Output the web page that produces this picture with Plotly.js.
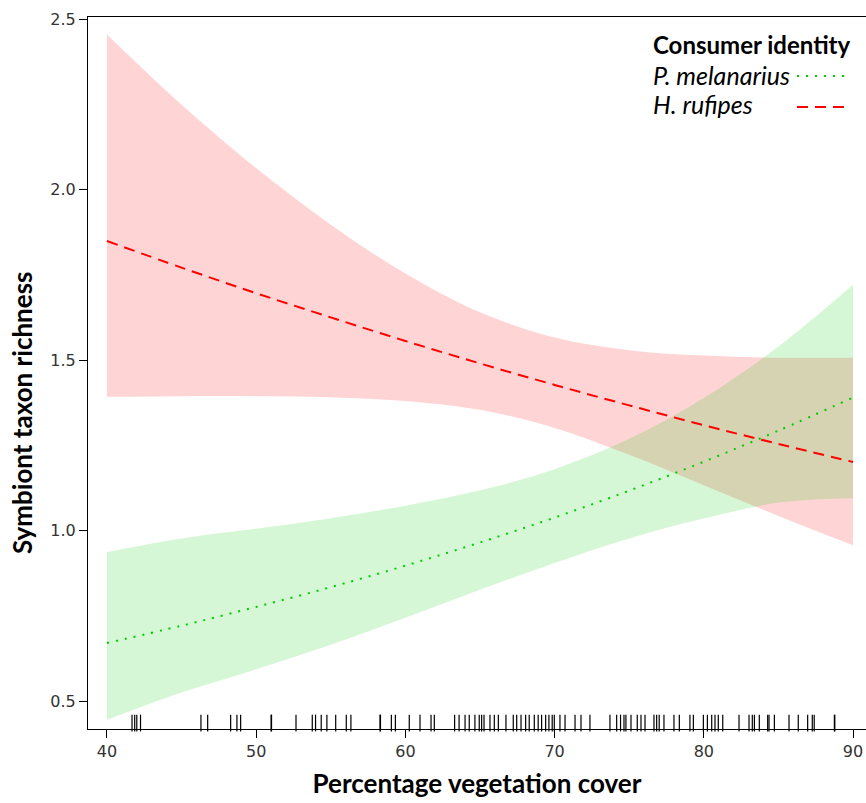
<!DOCTYPE html>
<html>
<head>
<meta charset="utf-8">
<script src="https://cdn.plot.ly/plotly-3.0.1.min.js"></script>
<style>html,body{margin:0;padding:0;background:#fff;}#chart{width:866px;height:803px;}</style>
</head>
<body>
<div id="chart"></div>
<script>
// Vegetation cover (x) at which the fitted curves were read
const cover = [40, 45, 50, 55, 60, 65, 70, 75, 80, 85, 90];

// H. rufipes: fitted richness and 95% band
const rufipesFit   = [1.849, 1.771, 1.696, 1.625, 1.556, 1.490, 1.427, 1.367, 1.309, 1.254, 1.201];
const rufipesLower = [1.392, 1.394, 1.394, 1.391, 1.380, 1.354, 1.301, 1.222, 1.133, 1.043, 0.957];
const rufipesUpper = [2.455, 2.249, 2.063, 1.897, 1.754, 1.640, 1.566, 1.529, 1.513, 1.507, 1.507];

// P. melanarius: fitted richness and 95% band
const melanariusFit   = [0.670, 0.721, 0.776, 0.834, 0.897, 0.965, 1.038, 1.117, 1.202, 1.293, 1.390];
const melanariusLower = [0.445, 0.525, 0.593, 0.665, 0.744, 0.826, 0.905, 0.977, 1.035, 1.082, 1.095];
const melanariusUpper = [0.937, 0.977, 1.005, 1.036, 1.073, 1.118, 1.180, 1.269, 1.389, 1.540, 1.721];

// Observed vegetation cover values (rug)
const rugCover = [41.68, 41.86, 42.0, 42.25, 46.3, 46.75, 48.29, 48.71, 48.96, 51.0, 51.03,
  52.67, 53.76, 53.98, 54.36, 54.74, 55.33, 56.04, 56.35, 58.30, 58.33, 59.06, 59.33, 60.26,
  60.98, 61.72, 61.94, 63.3, 63.6, 64.0, 64.28, 64.66, 64.95, 65.11, 65.27, 65.67, 65.96,
  66.23, 66.74, 67.23, 67.46, 67.75, 68.06, 68.3, 68.64, 68.9, 69.13, 69.4, 69.62, 69.84,
  69.98, 70.36, 70.7, 71.37, 71.77, 72.37, 73.71, 74.16, 74.42, 74.65, 74.78, 75.12, 75.54,
  75.79, 76.06, 76.66, 76.84, 77.01, 77.33, 78.0, 78.36, 79.07, 79.3, 79.97, 80.24, 80.53,
  80.75, 80.97, 81.27, 82.36, 83.03, 83.25, 83.39, 83.72, 84.28, 84.37, 84.73, 85.71,
  86.33, 86.96, 87.27, 87.4, 88.75, 88.78];
const rugLevel = 0.4355;

const seriesNames = ["P. melanarius", "H. rufipes"];
const xTitle = "Percentage vegetation cover";
const yTitle = "Symbiont taxon richness";
const legendTitle = "Consumer identity";

const redFill = "rgba(255,0,0,0.17)";
const greenFill = "rgba(0,205,0,0.16)";

const traces = [
  {x: cover, y: rufipesLower, mode: "lines", line: {width: 0, shape: "spline"}, hoverinfo: "skip", showlegend: false},
  {x: cover, y: rufipesUpper, mode: "lines", line: {width: 0, shape: "spline"}, fill: "tonexty", fillcolor: redFill, hoverinfo: "skip", showlegend: false},
  {x: cover, y: melanariusLower, mode: "lines", line: {width: 0, shape: "spline"}, hoverinfo: "skip", showlegend: false},
  {x: cover, y: melanariusUpper, mode: "lines", line: {width: 0, shape: "spline"}, fill: "tonexty", fillcolor: greenFill, hoverinfo: "skip", showlegend: false},
  {x: cover, y: melanariusFit, mode: "lines", name: seriesNames[0], line: {color: "#00cc00", width: 2, dash: "2px,7px", shape: "spline"}, showlegend: false},
  {x: cover, y: rufipesFit, mode: "lines", name: seriesNames[1], line: {color: "#ff0000", width: 2, dash: "11px,7px", shape: "spline"}, showlegend: false},
  {x: rugCover, y: rugCover.map(() => rugLevel), mode: "markers", cliponaxis: false,
   marker: {symbol: "line-ns-open", size: 12, color: "#000", line: {color: "#000", width: 1.2}}, hoverinfo: "skip", showlegend: false}
];

const layout = {
  width: 866, height: 803,
  margin: {l: 88, r: 0, t: 17, b: 74},
  paper_bgcolor: "#fff", plot_bgcolor: "#fff",
  showlegend: false,
  xaxis: {
    range: [38.73, 90.87], tickvals: [40, 50, 60, 70, 80, 90], ticks: "outside", ticklen: 8, tickwidth: 1, tickcolor: "#000",
    showline: true, linecolor: "#000", linewidth: 1, mirror: true, showgrid: false, zeroline: false,
    tickfont: {family: "DejaVu Sans", size: 16, color: "#333"},
    title: {text: xTitle, font: {family: "Lato", size: 26, color: "#000", weight: "bold"}, standoff: 14}
  },
  yaxis: {
    range: [0.418, 2.506], tickvals: [0.5, 1.0, 1.5, 2.0, 2.5], tickformat: ".1f", ticks: "outside", ticklen: 8, tickwidth: 1, tickcolor: "#000",
    showline: true, linecolor: "#000", linewidth: 1, showgrid: false, zeroline: false,
    tickfont: {family: "DejaVu Sans", size: 16, color: "#333"}
  },
  annotations: [
    {xref: "paper", yref: "paper", x: -0.085, y: 0.445, xanchor: "center", yanchor: "middle", textangle: -90, showarrow: false,
     text: "<b>" + yTitle + "</b>", font: {family: "Lato", size: 26, color: "#000"}},
    {xref: "paper", yref: "paper", x: 0.7237, y: 0.962, xanchor: "left", yanchor: "middle", showarrow: false,
     text: "<b>" + legendTitle + "</b>", font: {family: "Lato", size: 24, color: "#000"}},
    {xref: "paper", yref: "paper", x: 0.7237, y: 0.9185, xanchor: "left", yanchor: "middle", showarrow: false,
     text: "<i>" + seriesNames[0] + "</i>", font: {family: "Lato", size: 25, color: "#000"}},
    {xref: "paper", yref: "paper", x: 0.7237, y: 0.8778, xanchor: "left", yanchor: "middle", showarrow: false,
     text: "<i>" + seriesNames[1] + "</i>", font: {family: "Lato", size: 25, color: "#000"}}
  ],
  shapes: [
    {type: "line", xref: "paper", yref: "paper", x0: 0.9113, x1: 0.9794, y0: 0.9171, y1: 0.9171, line: {color: "#00cc00", width: 2, dash: "2px,7px"}},
    {type: "line", xref: "paper", yref: "paper", x0: 0.9113, x1: 0.9794, y0: 0.8736, y1: 0.8736, line: {color: "#ff0000", width: 2, dash: "11px,7px"}}
  ]
};

Plotly.newPlot("chart", traces, layout, {displayModeBar: false, staticPlot: true});
</script>
</body>
</html>
